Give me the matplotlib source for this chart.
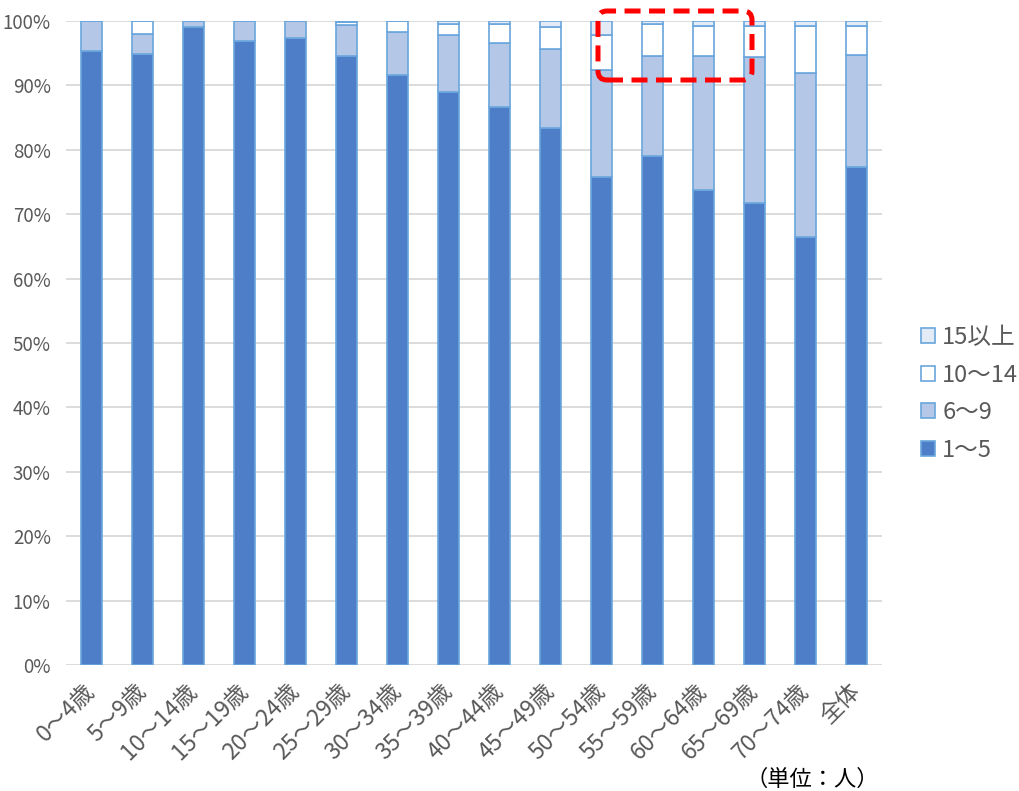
import matplotlib
matplotlib.use("Agg")
import matplotlib.pyplot as plt
from matplotlib.patches import FancyBboxPatch
from matplotlib.transforms import IdentityTransform
import numpy as np

plt.rcParams['font.family'] = ['Noto Sans CJK JP', 'DejaVu Sans']

# datos (porcentaje por grupo de edad)
categorias = ["0～4歳", "5～9歳", "10～14歳", "15～19歳", "20～24歳", "25～29歳",
              "30～34歳", "35～39歳", "40～44歳", "45～49歳", "50～54歳", "55～59歳",
              "60～64歳", "65～69歳", "70～74歳", "全体"]
s1_5 = [95.3, 94.9, 99.0, 96.9, 97.4, 94.6, 91.6, 89.0, 86.6, 83.4, 75.8, 79.0, 73.8, 71.7, 66.5, 77.4]
s6_9 = [4.7, 3.1, 1.0, 3.1, 2.6, 4.8, 6.7, 8.8, 10.0, 12.2, 16.6, 15.6, 20.8, 22.7, 25.4, 17.3]
s10_14 = [0.0, 2.0, 0.0, 0.0, 0.0, 0.5, 1.7, 1.7, 3.0, 3.4, 5.5, 4.9, 4.7, 4.8, 7.4, 4.6]
s15 = [0.0, 0.0, 0.0, 0.0, 0.0, 0.1, 0.0, 0.5, 0.4, 1.0, 2.1, 0.5, 0.7, 0.8, 0.7, 0.7]

series = [("1～5", s1_5, "#4f7ec8"), ("6～9", s6_9, "#b4c7e7"),
          ("10～14", s10_14, "#ffffff"), ("15以上", s15, "#e3ebf7")]

fig = plt.figure(figsize=(10.2, 7.91), dpi=100)
ax = fig.add_axes([66/1020, 126/791, 816/1020, 644/791])

x = np.arange(len(categorias))
base = np.zeros(len(categorias))
for nombre, vals, color in series:
    v = np.array(vals) / 100
    ax.bar(x, v, 0.4, bottom=base, color=color, edgecolor="#6aa6dd", linewidth=1.2,
           label=nombre, zorder=3)
    base += v

ax.set_xlim(-0.5, len(categorias) - 0.5)
ax.set_ylim(0, 1)
ax.set_yticks(np.arange(0, 1.01, 0.1))
ax.set_yticklabels([f"{int(round(t*100))}%" for t in np.arange(0, 1.01, 0.1)])
ax.yaxis.grid(True, color="#d9d9d9", linewidth=1.3, zorder=0)
for s in ax.spines.values():
    s.set_visible(False)
ax.tick_params(axis="both", length=0, colors="#595959")
ax.tick_params(axis="y", labelsize=13.5, pad=11)
ax.set_xticks(x)
ax.set_xticklabels(categorias, rotation=45, ha="right", va="center",
                   rotation_mode="anchor", fontsize=16.5)
ax.tick_params(axis="x", pad=16)

# recuadro rojo punteado (en pixeles)
caja = FancyBboxPatch((598, 791 - 80), 752 - 598, 80 - 11,
                      boxstyle="round,pad=0,rounding_size=9",
                      fill=False, edgecolor="#ff0000", linewidth=3.6,
                      linestyle=(0, (3.2, 1.7)), transform=IdentityTransform(),
                      clip_on=False, zorder=5)
fig.patches.append(caja)

h, l = ax.get_legend_handles_labels()
leg = fig.legend(h[::-1], l[::-1], loc="center left", bbox_to_anchor=(0.882, 0.502),
                 frameon=False, fontsize=17, handlelength=0.6, handleheight=0.6,
                 handletextpad=0.3, labelspacing=0.62, labelcolor="#595959")

fig.text(0.862, 0.006, "（単位：人）", fontsize=16, color="#000000", ha="right")

fig.savefig("out.png", dpi=100)
